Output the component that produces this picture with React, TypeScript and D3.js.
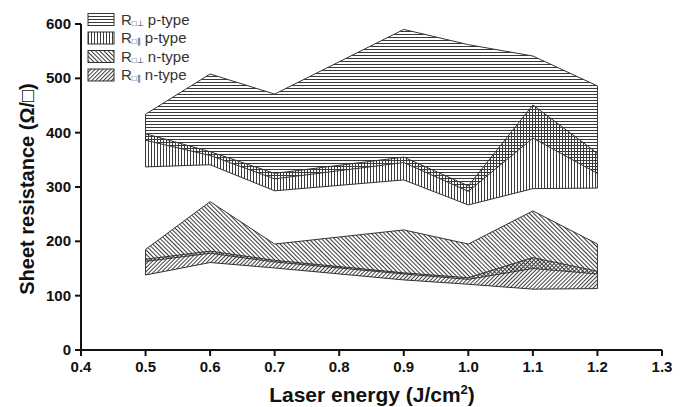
import React from "react";
import * as d3 from "d3";

const energies = [0.5, 0.6, 0.7, 0.9, 1.0, 1.1, 1.2];
const pPerpHigh = [434, 508, 471, 590, 562, 541, 486];
const pPerpLow = [386, 358, 315, 345, 292, 390, 325];
const pParHigh = [398, 365, 325, 355, 302, 451, 362];
const pParLow = [337, 341, 293, 313, 267, 297, 298];
const nPerpHigh = [185, 273, 195, 221, 195, 256, 195];
const nPerpLow = [163, 178, 162, 140, 130, 150, 140];
const nParHigh = [167, 182, 165, 142, 133, 170, 145];
const nParLow = [138, 161, 151, 129, 121, 112, 113];

const xTicks = [0.4, 0.5, 0.6, 0.7, 0.8, 0.9, 1.0, 1.1, 1.2, 1.3];
const yTicks = [0, 100, 200, 300, 400, 500, 600];

const seriesNames = ["\u22A5", "\u2225", "\u22A5", "\u2225"];
const seriesTypes = ["p-type", "p-type", "n-type", "n-type"];
const patternIds = ["patH", "patV", "patB", "patF"];

const FONT = "'Liberation Sans', Arial, sans-serif";

export default function App() {
  const x = d3.scaleLinear().domain([0.4, 1.3]).range([81, 662]);
  const y = d3.scaleLinear().domain([0, 600]).range([350, 24]);

  const bands = [
    { hi: pPerpHigh, lo: pPerpLow, pat: "patH" },
    { hi: pParHigh, lo: pParLow, pat: "patV" },
    { hi: nPerpHigh, lo: nPerpLow, pat: "patB" },
    { hi: nParHigh, lo: nParLow, pat: "patF" },
  ];

  const area = (hi: number[], lo: number[]) =>
    d3
      .area<number>()
      .x((_, i) => x(energies[i]))
      .y0((_, i) => y(lo[i]))
      .y1((_, i) => y(hi[i]))(energies.map((e) => e)) || "";

  const lineC = "#3a3a3a";

  return (
    <svg width={684} height={407} style={{ display: "block", position: "absolute", left: 0, top: 0, background: "#fff" }}>
      <defs>
        <pattern id="patH" patternUnits="userSpaceOnUse" width={4} height={3}>
          <line x1={0} y1={1.5} x2={4} y2={1.5} stroke={lineC} strokeWidth={1} />
        </pattern>
        <pattern id="patV" patternUnits="userSpaceOnUse" width={3} height={4}>
          <line x1={1.5} y1={0} x2={1.5} y2={4} stroke={lineC} strokeWidth={1} />
        </pattern>
        <pattern id="patB" patternUnits="userSpaceOnUse" width={3} height={4} patternTransform="rotate(-45)">
          <line x1={1.5} y1={0} x2={1.5} y2={4} stroke={lineC} strokeWidth={1} />
        </pattern>
        <pattern id="patF" patternUnits="userSpaceOnUse" width={2.8} height={4} patternTransform="rotate(45)">
          <line x1={1.4} y1={0} x2={1.4} y2={4} stroke={lineC} strokeWidth={1} />
        </pattern>
      </defs>

      {bands.map((b, i) => (
        <path key={i} d={area(b.hi, b.lo)} fill={`url(#${b.pat})`} stroke="#333" strokeWidth={1} />
      ))}

      {/* axes */}
      <line x1={x(0.4)} y1={y(0)} x2={x(1.3)} y2={y(0)} stroke="#111" strokeWidth={2} />
      <line x1={x(0.4)} y1={y(0)} x2={x(0.4)} y2={y(600)} stroke="#111" strokeWidth={2} />
      {xTicks.map((t) => (
        <g key={t}>
          <line x1={x(t)} y1={y(0)} x2={x(t)} y2={y(0) + 6} stroke="#111" strokeWidth={2} />
          <text x={x(t)} y={y(0) + 22} textAnchor="middle" fontFamily={FONT} fontWeight="bold" fontSize={15} fill="#111">
            {t.toFixed(1)}
          </text>
        </g>
      ))}
      {yTicks.map((t) => (
        <g key={t}>
          <line x1={x(0.4) - 6} y1={y(t)} x2={x(0.4)} y2={y(t)} stroke="#111" strokeWidth={2} />
          <text x={x(0.4) - 10} y={y(t) + 5} textAnchor="end" fontFamily={FONT} fontWeight="bold" fontSize={15} fill="#111">
            {t}
          </text>
        </g>
      ))}

      <text x={372} y={402} textAnchor="middle" fontFamily={FONT} fontWeight="bold" fontSize={21} fill="#111">
        Laser energy (J/cm<tspan dy={-8} fontSize={13}>2</tspan><tspan dy={8}>)</tspan>
      </text>
      <text
        transform="translate(34,189) rotate(-90)"
        textAnchor="middle"
        fontFamily={FONT}
        fontWeight="bold"
        fontSize={20}
        fill="#111"
      >
        Sheet resistance (Ω/□)
      </text>

      {/* legend */}
      {patternIds.map((p, i) => {
        const cy = 19.5 + i * 18.5;
        return (
          <g key={p}>
            <rect x={88} y={cy - 6} width={26} height={12} fill={`url(#${p})`} stroke="#333" strokeWidth={1} />
            <text x={121} y={cy + 5} fontFamily={FONT} fontSize={15} fill="#333">
              R
              <tspan fontSize={8} dy={1}>□{seriesNames[i]}</tspan>
              <tspan fontSize={15} dy={-1}>{"  " + seriesTypes[i]}</tspan>
            </text>
          </g>
        );
      })}
    </svg>
  );
}
